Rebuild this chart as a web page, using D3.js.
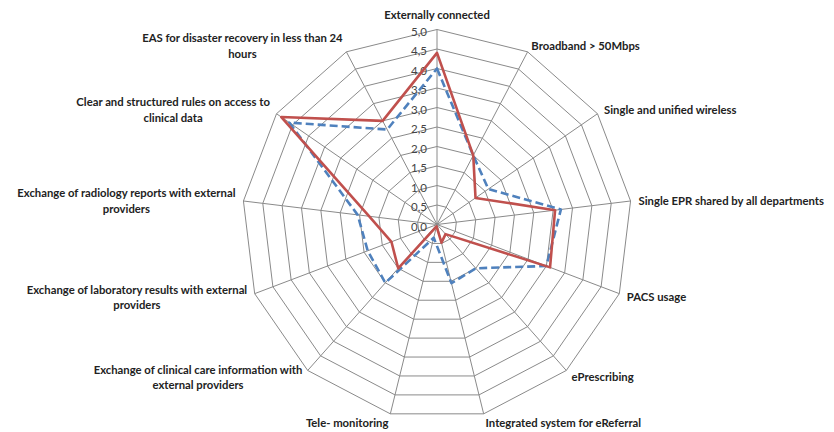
<!DOCTYPE html>
<html><head><meta charset="utf-8">
<script src="https://cdn.jsdelivr.net/npm/d3@7/dist/d3.min.js"></script>
<style>
html,body{margin:0;padding:0;background:#fff;}
svg{display:block;}
</style></head>
<body>
<svg id="chart" width="834" height="432"></svg>
<script>
const categories = [
  "Externally connected",
  "Broadband > 50Mbps",
  "Single and unified wireless",
  "Single EPR shared by all departments",
  "PACS usage",
  "ePrescribing",
  "Integrated system for eReferral",
  "Tele- monitoring",
  "Exchange of clinical  care information with\nexternal providers",
  "Exchange of laboratory results with external\nproviders",
  "Exchange of radiology reports with external\nproviders",
  "Clear and structured rules on access to\nclinical data",
  "EAS for disaster recovery in less than 24\nhours"
];
const seriesBlue = [4.0, 2.0, 1.6, 3.2, 3.0, 1.5, 1.55, 0.35, 2.0, 1.9, 2.05, 4.6, 2.75];
const seriesRed  = [4.4, 2.0, 1.2, 3.05, 3.1, 0.33, 0.48, 0.05, 1.5, 1.25, 1.75, 4.85, 3.0];
const tickValues = [0, 0.5, 1, 1.5, 2, 2.5, 3, 3.5, 4, 4.5, 5];
const tickLabels = ["0,0","0,5","1,0","1,5","2,0","2,5","3,0","3,5","4,0","4,5","5,0"];

const svg = d3.select("#chart");
const cx = 437, cy = 224.5, R = 195;
const n = categories.length;
const r = d3.scaleLinear().domain([0, 5]).range([0, R]);
const angle = d3.scaleLinear().domain([0, n]).range([0, 2 * Math.PI]);
const pt = (i, v) => [cx + r(v) * Math.sin(angle(i)), cy - r(v) * Math.cos(angle(i))];

const g = svg.append("g");
const gridColor = "#8a8a8a";

// rings
tickValues.filter(v => v > 0).forEach(v => {
  g.append("path")
    .attr("d", d3.line()(d3.range(n).map(i => pt(i, v))) + "Z")
    .attr("fill", "none").attr("stroke", gridColor).attr("stroke-width", 1);
});
// spokes
d3.range(n).forEach(i => {
  const [x, y] = pt(i, 5);
  g.append("line").attr("x1", cx).attr("y1", cy).attr("x2", x).attr("y2", y)
    .attr("stroke", gridColor).attr("stroke-width", 1);
});

// tick labels
g.selectAll("text.tick").data(tickValues).join("text")
  .attr("class", "tick")
  .attr("x", cx - 10).attr("y", (d) => cy - r(d) + 1.5)
  .attr("text-anchor", "end").attr("dominant-baseline", "central")
  .attr("font-family", "Lato, 'Liberation Sans', sans-serif")
  .attr("font-size", 11.5).attr("fill", "#444")
  .text((d, i) => tickLabels[i]);

// series
const radial = d3.lineRadial()
  .angle((d, i) => angle(i))
  .radius(d => r(d))
  .curve(d3.curveLinearClosed);

g.append("path").attr("transform", `translate(${cx},${cy})`)
  .attr("d", radial(seriesBlue))
  .attr("fill", "none").attr("stroke", "#4F81BD").attr("stroke-width", 2.6)
  .attr("stroke-dasharray", "8,4").attr("stroke-linejoin", "round");
g.append("path").attr("transform", `translate(${cx},${cy})`)
  .attr("d", radial(seriesRed))
  .attr("fill", "none").attr("stroke", "#C0504D").attr("stroke-width", 2.6)
  .attr("stroke-linejoin", "round");

// category labels
const lineH = 15.5;
categories.forEach((c, i) => {
  const s = Math.sin(angle(i)), co = Math.cos(angle(i));
  const [vx, vy] = pt(i, 5);
  const lines = c.split("\n");
  let ax = vx + s * 8, ay = vy - co * 8;
  if (Math.abs(s) < 0.1) ay -= 8;
  const t = g.append("text")
    .attr("font-family", "Lato, 'Liberation Sans', sans-serif")
    .attr("font-weight", "bold").attr("font-size", 11.3).attr("fill", "#222")
    .attr("text-anchor", "middle").attr("dominant-baseline", "central");
  const spans = lines.map((l, k) => t.append("tspan").attr("y", ay + (k - (lines.length - 1) / 2) * lineH).text(l));
  const w = d3.max(spans, sp => sp.node().getComputedTextLength());
  let mx = ax;
  if (s > 0.1) mx = ax + w / 2;
  else if (s < -0.1) mx = ax - w / 2;
  spans.forEach(sp => sp.attr("x", mx));
});
</script>
</body></html>
